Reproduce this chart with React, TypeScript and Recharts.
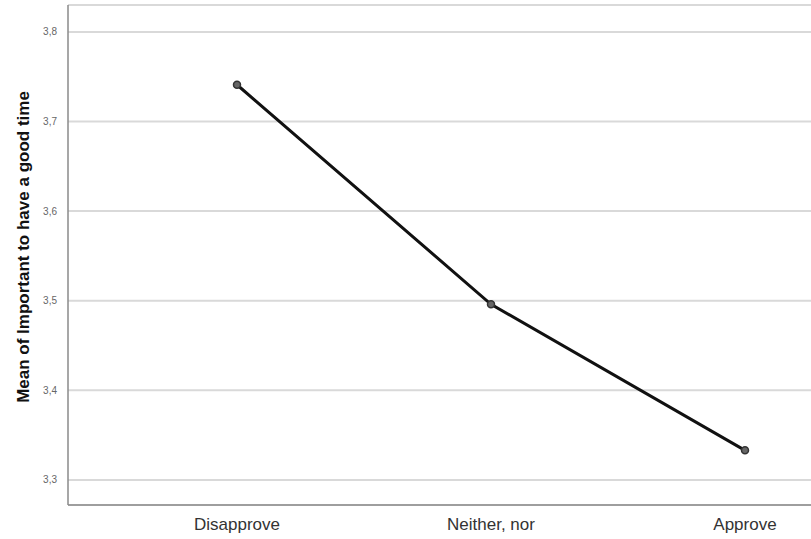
import React from 'react';
import { LineChart, Line, XAxis, YAxis, CartesianGrid } from 'recharts';

// categories and means
const categories = ['Disapprove', 'Neither, nor', 'Approve'];
const means = [3.741, 3.496, 3.333];
const yTicks = [3.3, 3.4, 3.5, 3.6, 3.7, 3.8];

const data = categories.map((c, i) => ({ name: c, mean: means[i] }));

// rotated y-axis title, sitting a little above the plot's middle like the original
const YTitle = (props: any) => {
  const { viewBox } = props;
  const cy = viewBox.y + viewBox.height / 2 - 8;
  return (
    <text
      x={23}
      y={cy}
      transform={`rotate(-90, 23, ${cy})`}
      textAnchor="middle"
      dominantBaseline="central"
      fontSize={17}
      fontWeight="bold"
      fill="#111111"
    >
      Mean of Important to have a good time
    </text>
  );
};

const App: React.FC = () => {
  return (
    <div style={{ position: 'absolute', left: 0, top: 0, fontFamily: '"Liberation Sans", Arial, sans-serif' }}>
      <LineChart width={811} height={539} data={data} margin={{ top: 5, right: 0, bottom: 4, left: 0 }}>
        <CartesianGrid vertical={false} stroke="#d9d9d9" strokeWidth={2} />
        <XAxis
          dataKey="name"
          height={30}
          axisLine={{ stroke: '#8a8a8a', strokeWidth: 1.5 }}
          tickLine={false}
          padding={{ left: 169, right: 66 }}
          tick={{ fontSize: 17, fill: '#333333' }}
          tickMargin={7}
        />
        <YAxis
          width={68}
          domain={[3.272, 3.83]}
          ticks={yTicks}
          allowDataOverflow
          axisLine={{ stroke: '#8a8a8a', strokeWidth: 1.5 }}
          tickLine={false}
          tick={{ fontSize: 10, fill: '#666666' }}
          tickMargin={5}
          tickFormatter={(v: number) => v.toFixed(1).replace('.', ',')}
          label={<YTitle />}
        />
        <Line
          type="linear"
          dataKey="mean"
          stroke="#111111"
          strokeWidth={3}
          dot={{ r: 3.5, fill: '#666666', stroke: '#333333', strokeWidth: 1.5 }}
          isAnimationActive={false}
        />
      </LineChart>
    </div>
  );
};

export default App;
